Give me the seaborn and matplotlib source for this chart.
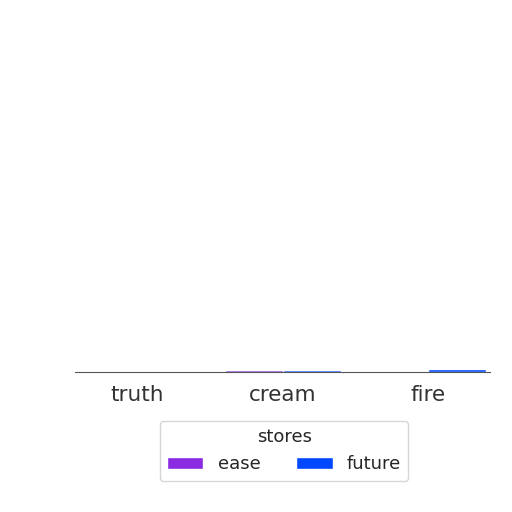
import matplotlib
matplotlib.use("Agg")
import matplotlib.pyplot as plt
import seaborn as sns
import pandas as pd

categories = ["truth", "cream", "fire"]
stores = ["ease", "future"]
ease_values = [0.2, 0.6, 0.3]
future_values = [0.3, 0.5, 1.0]
palette = {"ease": "#8a2be2", "future": "#0047ff"}

df = pd.DataFrame({
    "category": categories * 2,
    "stores": ["ease"] * len(categories) + ["future"] * len(categories),
    "value": ease_values + future_values,
})

sns.set_style("white")
fig = plt.figure(figsize=(5.12, 5.12), dpi=100)
# the plot area is squashed to a sliver just above the tick labels
ax = fig.add_axes([0.147, 0.2734, 0.810, 0.006])

sns.barplot(data=df, x="category", y="value", hue="stores", palette=palette,
            order=categories, hue_order=stores, saturation=1, ax=ax)

ax.set_xlim(-0.43, 2.43)
ax.set_ylim(0, 1.0)
ax.set_yticks([])
ax.set_xlabel("")
ax.set_ylabel("")
for side in ["top", "right", "left"]:
    ax.spines[side].set_visible(False)
ax.spines["bottom"].set_color("#555555")
ax.tick_params(axis="x", labelsize=15.5, length=4, pad=5, color="#555555",
               labelcolor="#333333")

ax.legend(title="stores", ncol=2, loc="upper center",
          bbox_to_anchor=(0.555, 1 - 412 / 512), bbox_transform=fig.transFigure,
          fontsize=13, title_fontsize=13, frameon=True, handlelength=2.0,
          handletextpad=0.8, columnspacing=2.0)

fig.savefig("out.png", dpi=100, facecolor="white")
